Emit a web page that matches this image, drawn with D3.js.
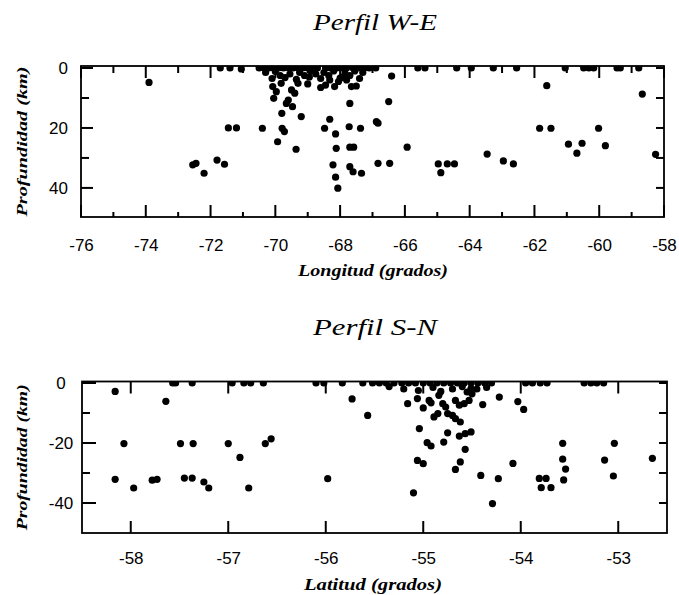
<!DOCTYPE html>
<html>
<head>
<meta charset="utf-8">
<script src="https://cdn.jsdelivr.net/npm/d3@7"></script>
<style>
  body { margin: 0; background: #fff; }
</style>
</head>
<body>
<div id="visualization"></div>
<script>
// --- data: [longitude, depth km] for the W-E profile
const weQuakes = [
  [-73.9, 4.8], [-71.7, 0], [-71.4, 0], [-71.05, 0.3], [-71.45, 20], [-71.2, 20],
  [-72.55, 32.3], [-72.45, 31.8], [-72.2, 35.1], [-71.8, 30.7], [-71.57, 32.1], [-70.4, 20.1],
  [-70.5, 0], [-70.35, 0], [-70.2, 0], [-70.05, 0], [-69.9, 0], [-69.75, 0], [-69.6, 0], [-69.45, 0],
  [-69.3, 0], [-69.15, 0], [-69.0, 0], [-68.85, 0], [-68.7, 0], [-68.45, 0], [-68.3, 0], [-68.1, 0],
  [-67.95, 0], [-67.8, 0], [-67.6, 0], [-67.45, 0], [-67.25, 0], [-67.1, 0], [-66.9, 0],
  [-70.3, 1.5], [-70.0, 1.2], [-69.85, 2.5], [-69.55, 2], [-69.25, 1.5], [-69.1, 2.5], [-68.9, 1],
  [-68.75, 2], [-68.5, 1.5], [-68.35, 2.5], [-68.2, 1], [-67.85, 1.8], [-67.7, 2.5], [-67.55, 1], [-67.3, 1.5],
  [-70.1, 3.5], [-69.7, 3.2], [-69.35, 3.8], [-68.95, 3], [-68.6, 3.5], [-68.05, 4.5], [-67.8, 4], [-67.4, 3.5],
  [-70.08, 6.2], [-69.97, 7.9], [-70.05, 10.1], [-69.82, 5.1], [-69.5, 7.3], [-69.4, 8.4], [-69.6, 10.7],
  [-69.66, 11.8], [-69.47, 12.9], [-69.3, 5.1], [-69.0, 5.3], [-69.8, 15.1], [-69.2, 16.2], [-69.79, 20.1],
  [-69.72, 21.2], [-69.93, 24.6], [-69.36, 27.1],
  [-68.6, 6.5], [-68.45, 5.7], [-68.17, 6.2], [-68.32, 4], [-68.0, 3.4], [-67.9, 3], [-67.65, 6.2], [-67.5, 6],
  [-67.7, 11.8], [-68.32, 17.1], [-68.48, 20.1], [-68.14, 22], [-68.12, 26.8], [-67.72, 19.6], [-67.37, 20.1],
  [-67.7, 26.4], [-67.58, 26.4], [-68.22, 32.3], [-67.7, 32.9], [-67.6, 34.6], [-67.34, 35.1], [-68.14, 36.4],
  [-68.07, 40.1],
  [-66.88, 17.9], [-66.83, 18.4], [-66.83, 31.8], [-66.47, 31.8], [-66.41, 2.7], [-66.5, 11.2], [-65.93, 26.4],
  [-65.6, 0], [-65.38, 0], [-64.4, 0], [-63.95, 0], [-63.27, 0], [-62.55, 0], [-61.05, 0], [-60.48, 0],
  [-60.32, 0], [-60.17, 0], [-59.45, 0], [-59.35, 0], [-58.78, 0],
  [-64.97, 32], [-64.69, 32], [-64.47, 32], [-64.89, 34.9], [-63.46, 28.7], [-62.96, 31], [-62.65, 32],
  [-61.62, 5.9], [-61.84, 20.1], [-61.49, 20.1], [-60.95, 25.4], [-60.69, 28.4], [-60.53, 25.1],
  [-60.02, 20.1], [-59.81, 25.9], [-58.67, 8.7], [-58.26, 28.8]
];

// --- data: [latitude, depth km (negative)] for the S-N profile
const snQuakes = [
  [-58.16, -2.8], [-58.07, -20.2], [-58.16, -32.1], [-57.97, -35], [-57.78, -32.4], [-57.73, -32.1],
  [-57.64, -6.1], [-57.57, 0], [-57.54, 0], [-57.37, 0], [-57.49, -20.2], [-57.36, -20.2],
  [-57.45, -31.7], [-57.37, -31.7], [-57.25, -33], [-57.2, -35],
  [-57.0, -20.2], [-56.88, -24.8], [-56.79, -35], [-56.62, -20.2], [-56.56, -18.6],
  [-56.96, 0], [-56.84, 0], [-56.77, 0], [-56.64, 0],
  [-55.98, -31.9], [-56.1, 0], [-56.02, 0], [-55.83, 0], [-55.62, 0], [-55.52, 0], [-55.73, -5.3], [-55.57, -10.8],
  [-55.45, 0], [-55.38, 0], [-55.3, 0], [-55.22, 0], [-55.15, 0], [-55.08, 0], [-55.0, 0], [-54.93, 0],
  [-54.86, 0], [-54.79, 0], [-54.72, 0], [-54.65, 0], [-54.58, 0], [-54.51, 0], [-54.44, 0], [-54.37, 0], [-54.3, 0],
  [-55.35, -1.2], [-55.2, -2], [-55.05, -2.5], [-54.9, -1.5], [-54.82, -2.8], [-54.7, -2], [-54.6, -1.2],
  [-54.55, -3], [-54.45, -2], [-54.35, -1.5],
  [-55.16, -6.9], [-55.06, -5.2], [-55.0, -8.3], [-54.94, -5.8], [-54.92, -6.6], [-54.84, -4.1], [-54.85, -10.2],
  [-54.89, -11.3], [-54.8, -6.9], [-54.77, -8], [-54.75, -10.2], [-54.7, -10.8], [-54.67, -5.8], [-54.63, -7.4],
  [-54.58, -6.9], [-54.53, -5.8], [-54.5, -3.6], [-54.51, -1.9], [-54.67, -11.9], [-54.62, -13], [-54.39, -7.2],
  [-54.22, -4.7], [-55.04, -15.2], [-54.75, -16.6], [-54.63, -17.7], [-54.57, -16.9], [-54.51, -16.3],
  [-54.79, -19.7], [-54.96, -19.9], [-54.92, -21], [-54.57, -22.1], [-55.06, -25.8], [-55.0, -26.9],
  [-54.62, -26.3], [-54.67, -28.8], [-54.41, -30.8], [-54.23, -31.9], [-55.1, -36.6], [-54.29, -40.2],
  [-54.08, -26.8], [-54.03, -6.2], [-53.97, -8.8],
  [-53.95, 0], [-53.88, 0], [-53.8, 0], [-53.73, 0],
  [-53.81, -31.8], [-53.74, -31.8], [-53.79, -34.9], [-53.69, -34.9], [-53.57, -20.1], [-53.57, -25.4],
  [-53.54, -28.7], [-53.56, -32.3],
  [-53.35, 0], [-53.28, 0], [-53.22, 0], [-53.15, 0],
  [-53.14, -25.7], [-53.04, -20.1], [-53.05, -31], [-52.65, -25.1]
];

// tick values
const weXMajor = [-76, -74, -72, -70, -68, -66, -64, -62, -60, -58];
const weXMinor = [-75, -73, -71, -69, -67, -65, -63, -61, -59];
const weYMajor = [0, 20, 40];
const weYMinor = [10, 30];
const weYRight = [0, 10, 20, 30, 40];
const snXMajor = [-58, -57, -56, -55, -54, -53];
const snYMajor = [0, -20, -40];
const snYMinor = [-10, -30];
const snYRight = [0, -10, -20, -30, -40];

const svg = d3.select("#visualization")
  .append("svg")
  .attr("width", 679)
  .attr("height", 595);

const tickFont = "'Liberation Sans', Arial, sans-serif";
const serifFont = "'Liberation Serif', 'Times New Roman', serif";
const hyphen = d => String(d); // plain hyphen-minus, like the original

function drawPanel(p) {
  const x = d3.scaleLinear(p.xDomain, [p.left, p.right]);
  const y = d3.scaleLinear(p.yDomain, [p.top, p.bottom]); // yDomain = [value at top, value at bottom]
  const g = svg.append("g");

  // clip so the depth-0 dots are cut by the frame
  g.append("clipPath").attr("id", p.id + "-clip")
    .append("rect")
    .attr("x", p.left).attr("y", p.top)
    .attr("width", p.right - p.left).attr("height", p.bottom - p.top);

  g.append("g")
    .attr("clip-path", `url(#${p.id}-clip)`)
    .selectAll("circle")
    .data(p.data)
    .enter()
    .append("circle")
    .attr("cx", d => x(d[0]))
    .attr("cy", d => y(d[1]))
    .attr("r", 3.6)
    .attr("fill", "#000");

  // inward tick marks
  const ticks = g.append("g");
  const addTick = (x1, y1, x2, y2) => {
    ticks.append("path")
      .attr("d", `M${x1},${y1}L${x2},${y2}`)
      .style("stroke", "#000")
      .style("stroke-width", "2px")
      .style("fill", "none");
  };
  p.xMajor.forEach(v => { addTick(x(v), p.bottom, x(v), p.bottom - 12); addTick(x(v), p.top, x(v), p.top + 12); });
  (p.xMinor || []).forEach(v => { addTick(x(v), p.bottom, x(v), p.bottom - 5); addTick(x(v), p.top, x(v), p.top + 7); });
  p.yMajor.forEach(v => addTick(p.left, y(v), p.left + p.yMajorLen, y(v)));
  p.yMinor.forEach(v => addTick(p.left, y(v), p.left + 8, y(v)));
  p.yRight.forEach(v => addTick(p.right, y(v), p.right - 8, y(v)));

  // tick labels through d3 axes
  const xb = g.append("g")
    .attr("transform", `translate(0,${p.bottom})`)
    .call(d3.axisBottom(x).tickValues(p.xMajor).tickSize(0).tickPadding(p.xPad).tickFormat(hyphen));
  const yl = g.append("g")
    .attr("transform", `translate(${p.left},0)`)
    .call(d3.axisLeft(y).tickValues(p.yMajor).tickSize(0).tickPadding(p.yPad).tickFormat(hyphen));
  xb.select(".domain").remove();
  yl.select(".domain").remove();
  g.selectAll(".tick text")
    .style("font-family", tickFont)
    .style("font-size", "17px")
    .style("fill", "#000");
  if (p.yAnchor === "middle") {
    yl.selectAll("text").attr("text-anchor", "middle").attr("x", -p.yPad);
  }

  // frame
  g.append("rect")
    .attr("x", p.left).attr("y", p.top)
    .attr("width", p.right - p.left).attr("height", p.bottom - p.top)
    .attr("fill", "none")
    .attr("stroke", "#000")
    .attr("stroke-width", 1.8);

  // titles
  g.append("text")
    .attr("x", 375).attr("y", p.titleY)
    .attr("text-anchor", "middle")
    .style("font-family", serifFont)
    .style("font-style", "italic")
    .style("font-size", "23px")
    .attr("textLength", 124).attr("lengthAdjust", "spacingAndGlyphs")
    .text(p.title);

  g.append("text")
    .attr("x", 373).attr("y", p.xLabelY)
    .attr("text-anchor", "middle")
    .style("font-family", serifFont)
    .style("font-style", "italic")
    .style("font-weight", "bold")
    .style("font-size", "16px")
    .attr("textLength", p.xLabelLen).attr("lengthAdjust", "spacingAndGlyphs")
    .text(p.xLabel);

  g.append("text")
    .attr("transform", `translate(27,${(p.top + p.bottom) / 2}) rotate(-90)`)
    .attr("text-anchor", "middle")
    .style("font-family", serifFont)
    .style("font-style", "italic")
    .style("font-weight", "bold")
    .style("font-size", "15px")
    .attr("textLength", p.yLabelLen).attr("lengthAdjust", "spacingAndGlyphs")
    .text("Profundidad (km)");
}

drawPanel({
  id: "we", data: weQuakes,
  xDomain: [-76, -58], yDomain: [-0.67, 49.7],
  left: 81, right: 664, top: 66, bottom: 217,
  xMajor: weXMajor, xMinor: weXMinor,
  yMajor: weYMajor, yMinor: weYMinor, yRight: weYRight, yMajorLen: 12,
  xPad: 22, yPad: 13, yAnchor: "end",
  title: "Perfil W-E", titleY: 30,
  xLabel: "Longitud (grados)", xLabelY: 276, xLabelLen: 150, yLabelLen: 150
});

drawPanel({
  id: "sn", data: snQuakes,
  xDomain: [-58.5, -52.5], yDomain: [0.5, -50],
  left: 82, right: 667, top: 381.5, bottom: 533,
  xMajor: snXMajor, xMinor: null,
  yMajor: snYMajor, yMinor: snYMinor, yRight: snYRight, yMajorLen: 14,
  xPad: 19, yPad: 21, yAnchor: "middle",
  title: "Perfil S-N", titleY: 335,
  xLabel: "Latitud (grados)", xLabelY: 590, xLabelLen: 138, yLabelLen: 146
});
</script>
</body>
</html>
